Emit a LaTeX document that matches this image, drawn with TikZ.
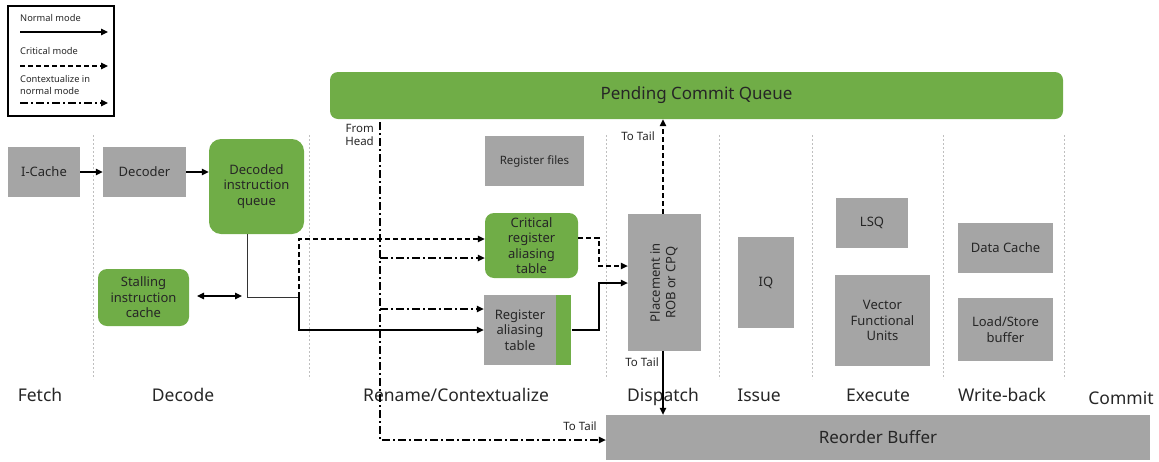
\documentclass[tikz,border=0pt]{standalone}
\usepackage{fontspec}
\setmainfont{Noto Sans}
\usetikzlibrary{arrows.meta,positioning}

\definecolor{pgreen}{HTML}{70AD47}
\definecolor{boxgray}{HTML}{A5A5A5}
\definecolor{inktext}{HTML}{262626}
\definecolor{divgray}{HTML}{BFBFBF}

\tikzset{
  x=1pt, y=-1pt,
  graybox/.style={fill=boxgray, draw=none, text=inktext, align=center,
    inner sep=0pt, font=\fontsize{13}{15.5}\selectfont},
  greenbox/.style={fill=pgreen, draw=none, text=black!85, align=center,
    inner sep=0pt, rounded corners=9pt, font=\fontsize{13}{15.5}\selectfont},
  tip/.style={-{Triangle[length=7pt,width=6.5pt]}},
  solidline/.style={line width=1.1pt, black},
  critline/.style={line width=1.1pt, black, dash pattern=on 5pt off 3pt},
  ctxline/.style={line width=1.1pt, black, dash pattern=on 8pt off 3pt on 2pt off 3pt},
  divider/.style={divgray, line width=0.8pt, dash pattern=on 2pt off 2pt},
  stagelbl/.style={text=inktext, font=\fontsize{17.5}{20}\selectfont, inner sep=0pt},
  smalllbl/.style={text=inktext, font=\fontsize{11.5}{13.5}\selectfont, inner sep=0pt, align=right},
  legendlbl/.style={text=inktext, font=\fontsize{9.3}{11.5}\selectfont, inner sep=0pt, anchor=west, align=left},
}

\begin{document}
\begin{tikzpicture}
\useasboundingbox (0,0) rectangle (1159,461);

% pipeline stage dividers
\foreach \xd in {93,309,606,719,812,943,1064}
  \draw[divider] (\xd,135) -- (\xd,379);

% legend
\node[draw=black, line width=1.2pt, minimum width=106pt, minimum height=110pt, inner sep=0pt] (legend) at (61,61) {};
\node[legendlbl] (lgnormal) at (20,18) {Normal mode};
\coordinate (lgna) at (20,32); \coordinate (lgnb) at (108,32);
\draw[solidline, tip] (lgna) -- (lgnb);
\node[legendlbl] (lgcrit) at (20,51) {Critical mode};
\coordinate (lgca) at (20,66); \coordinate (lgcb) at (108,66);
\draw[critline, tip] (lgca) -- (lgcb);
\node[legendlbl] (lgctx) at (20,85) {Contextualize in\\normal mode};
\coordinate (lgxa) at (20,103); \coordinate (lgxb) at (108,103);
\draw[ctxline, tip] (lgxa) -- (lgxb);

% big queues
\node[fill=pgreen, rounded corners=8pt, minimum width=733pt, minimum height=47pt, inner sep=0pt,
      text=black!85, font=\fontsize{17}{20}\selectfont] (pcq) at (696.5,95.5) {Pending Commit Queue};
\node[graybox, minimum width=544pt, minimum height=45pt, font=\fontsize{17}{20}\selectfont] (rob) at (878,437.5) {Reorder Buffer};

% front end
\node[graybox, minimum width=72pt, minimum height=50pt] (icache) at (44,172) {I-Cache};
\node[graybox, minimum width=83pt, minimum height=50pt] (decoder) at (144.5,172) {Decoder};
\node[greenbox, rounded corners=12pt, minimum width=95pt, minimum height=95pt] (diq) at (256.5,186.5) {Decoded\\instruction\\queue};
\node[greenbox, minimum width=91pt, minimum height=57pt] (sic) at (143.5,297.5) {Stalling\\instruction\\cache};

% rename / contextualize
\node[graybox, minimum width=99pt, minimum height=50pt, font=\fontsize{11.5}{13.5}\selectfont] (regfiles) at (534.5,161) {Register files};
\node[greenbox, minimum width=93pt, minimum height=65pt] (crat) at (531.5,245.5) {Critical\\register\\aliasing\\table};
\node[graybox, minimum width=72pt, minimum height=70pt, font=\fontsize{13}{15.5}\selectfont] (rat) at (520,330) {Register\\aliasing\\table};
\node[fill=pgreen, minimum width=15pt, minimum height=70pt, inner sep=0pt, anchor=west] (ratstrip) at (rat.east) {};

% dispatch and back end
\node[graybox, minimum width=73pt, minimum height=137pt] (place) at (664.5,282.5)
  {\rotatebox{90}{\fontsize{13}{15.5}\selectfont\begin{tabular}{@{}c@{}}Placement in\\ROB or CPQ\end{tabular}}};
\node[graybox, minimum width=56pt, minimum height=91pt] (iq) at (766,282.5) {IQ};
\node[graybox, minimum width=72pt, minimum height=50pt] (lsq) at (872,223) {LSQ};
\node[graybox, minimum width=95pt, minimum height=91pt] (vfu) at (882.5,320.5) {Vector\\Functional\\Units};
\node[graybox, minimum width=95pt, minimum height=50pt] (dcache) at (1005.5,248) {Data Cache};
\node[graybox, minimum width=95pt, minimum height=63pt] (lsb) at (1005.5,329.5) {Load/Store\\buffer};

% stage names
\node[stagelbl] (sfetch) at (40,395) {Fetch};
\node[stagelbl] (sdecode) at (183,395) {Decode};
\node[stagelbl] (srename) at (456,395) {Rename/Contextualize};
\node[stagelbl] (sdispatch) at (663,397) {Dispatch};
\node[stagelbl] (sissue) at (759,395) {Issue};
\node[stagelbl] (sexec) at (878,395) {Execute};
\node[stagelbl] (swb) at (1002,395) {Write-back};
\node[stagelbl] (scommit) at (1121,398) {Commit};

% side labels
\node[smalllbl, anchor=north east] (fromhead) at (374,124) {From\\Head};
\node[smalllbl] (tt1) at (638,136) {To Tail};
\node[smalllbl] (tt2) at (642,362) {To Tail};
\node[smalllbl] (tt3) at (580,426) {To Tail};

% front-end flow
\draw[solidline, tip] (icache) -- (decoder);
\draw[solidline, tip] (decoder.east) -- (diq.west |- decoder.east);
\coordinate (sa) at (197,296); \coordinate (sb) at (242,296);
\draw[solidline, {Triangle[length=7pt,width=6.5pt]}-{Triangle[length=7pt,width=6.5pt]}] (sa) -- (sb);

\coordinate (dq) at (247,234);
\coordinate (dqturn) at (247,297);
\coordinate (split) at (299,297);
\draw[line width=0.9pt, black!80] (dq) -- (dqturn) -- (split);
\draw[critline, tip] (split) |- (crat.west |- 0,239);
\draw[solidline, tip] (split) |- (rat.west);

% contextualize path from the head of the pending commit queue
\coordinate (ctop) at (380,122);
\coordinate (cbot) at (380,440);
\coordinate (cb1) at (380,258);
\coordinate (cb2) at (380,309);
\draw[ctxline, tip] (ctop) -- (cbot) -- (rob.west |- cbot);
\draw[ctxline, tip] (cb1) -- (crat.west |- cb1);
\draw[ctxline, tip] (cb2) -- (rat.west |- cb2);

% into dispatch
\coordinate (cratout) at (crat.east |- 0,238);
\draw[critline, tip] (cratout) -- (599,238) -- (599,266) -- (place.west |- 0,266);
\draw[solidline, tip] (ratstrip.east) -- (599,330) -- (599,283) -- (place.west |- 0,283);

% out of dispatch
\draw[critline, tip] (place.north -| 663,0) -- (pcq.south -| 663,0);
\draw[solidline, tip] (place.south -| 663,0) -- (rob.north -| 663,0);

\end{tikzpicture}
\end{document}
